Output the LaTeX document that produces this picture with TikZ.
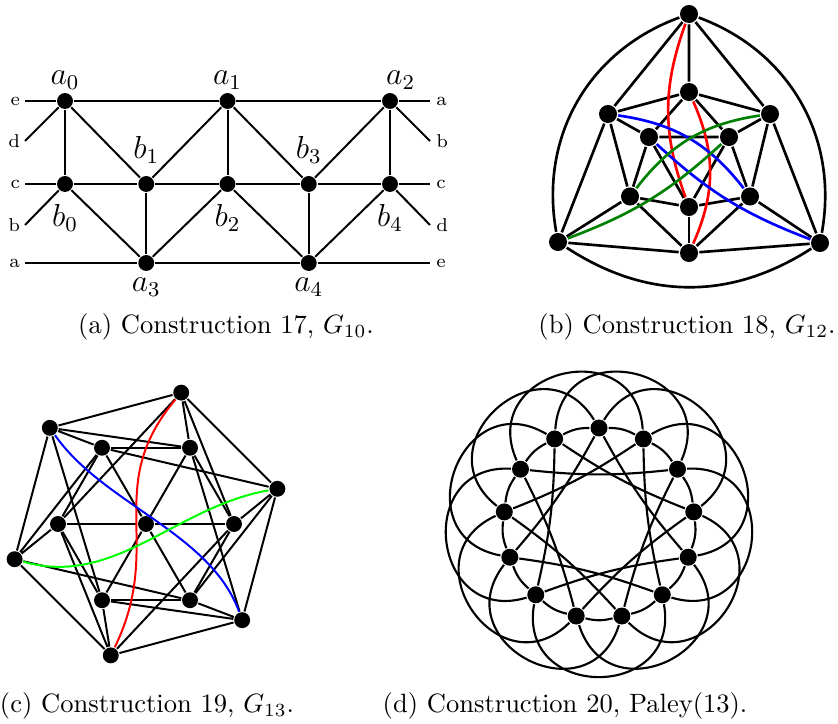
\documentclass[tikz,border=0pt]{standalone}
\usepackage{amsmath,amssymb}
\usepackage{xcolor}
\usepackage{tikz}
\usetikzlibrary{calc,positioning}
\definecolor{aristaroja}{RGB}{255,0,0}
\definecolor{aristaazul}{RGB}{0,0,255}
\definecolor{verdeosc}{RGB}{0,128,0}
\definecolor{verdeclaro}{RGB}{0,255,0}
\tikzset{
  vertice/.style={circle,fill=black,inner sep=0pt,minimum size=6pt},
  etiq/.style={inner sep=0pt,font=\large},
  letra/.style={inner sep=0pt,font=\scriptsize},
  pie/.style={inner sep=0pt,font=\normalsize}
}

\begin{document}
\begin{tikzpicture}[x=0.377pt, y=0.377pt, line width=0.75pt]
    \useasboundingbox (0,0) rectangle (838,723);
    % (a) Construction 17
    \node[vertice] (a0) at (65,622) {};
    \node[vertice] (a1) at (227.5,622) {};
    \node[vertice] (a2) at (390,622) {};
    \node[vertice] (b0) at (65,539) {};
    \node[vertice] (b1) at (146.25,539) {};
    \node[vertice] (b2) at (227.5,539) {};
    \node[vertice] (b3) at (308.75,539) {};
    \node[vertice] (b4) at (390,539) {};
    \node[vertice] (a3) at (146.25,460) {};
    \node[vertice] (a4) at (308.75,460) {};
    \coordinate (ie) at (25,622); \coordinate (id) at (25,582); \coordinate (ic) at (25,539);
    \coordinate (ib) at (25,498); \coordinate (ia) at (25,460);
    \coordinate (da) at (430,622); \coordinate (db) at (430,582); \coordinate (dc) at (430,539);
    \coordinate (dd) at (430,498); \coordinate (de) at (430,460);
    \draw (ie) -- (a0) -- (a1) -- (a2) -- (da);
    \draw (ic) -- (b0) -- (b1) -- (b2) -- (b3) -- (b4) -- (dc);
    \draw (ia) -- (a3) -- (a4) -- (de);
    \draw (a0) -- (b0) (a1) -- (b2) (a2) -- (b4) (b1) -- (a3) (b3) -- (a4);
    \draw (a0) -- (b1) -- (a1) -- (b3) -- (a2);
    \draw (b0) -- (a3) -- (b2) -- (a4) -- (b4);
    \draw (id) -- (a0) (ib) -- (b0) (db) -- (a2) (dd) -- (b4);
    \node[letra, left=1.5pt of ie] (le1) {e};
    \node[letra, left=1.5pt of id] (le2) {d};
    \node[letra, left=1.5pt of ic] (le3) {c};
    \node[letra, left=1.5pt of ib] (le4) {b};
    \node[letra, left=1.5pt of ia] (le5) {a};
    \node[letra, right=2pt of da] (ri1) {a};
    \node[letra, right=2pt of db] (ri2) {b};
    \node[letra, right=2pt of dc] (ri3) {c};
    \node[letra, right=2pt of dd] (ri4) {d};
    \node[letra, right=2pt of de] (ri5) {e};
    \node[etiq, above=0.5pt of a0] (la0) {$a_0$};
    \node[etiq, above=0.5pt of a1] (la1) {$a_1$};
    \node[etiq, above=0.5pt of a2, xshift=4pt] (la2) {$a_2$};
    \node[etiq, above=4pt of b1] (lb1) {$b_1$};
    \node[etiq, above=4pt of b3] (lb3) {$b_3$};
    \node[etiq, below=4pt of b0] (lb0) {$b_0$};
    \node[etiq, below=4pt of b2] (lb2) {$b_2$};
    \node[etiq, below=4pt of b4] (lb4) {$b_4$};
    \node[etiq, below=2pt of a3] (la3) {$a_3$};
    \node[etiq, below=2pt of a4] (la4) {$a_4$};
    \node[pie] (pa) at (226,396) {(a) Construction 17, $G_{10}$.};

    % (b) Construction 18
    \begin{scope}[line width=1pt, vertice/.append style={minimum size=6.8pt}]
    \node[vertice] (top) at (689,709) {};
    \node[vertice] (itop) at (689,631) {};
    \node[vertice] (left) at (608,609) {};
    \node[vertice] (right) at (770,609) {};
    \node[vertice] (ileft) at (649,586) {};
    \node[vertice] (iright) at (729,586) {};
    \node[vertice] (lleft) at (630,526.5) {};
    \node[vertice] (lright) at (750,526.5) {};
    \node[vertice] (ibot) at (689,516) {};
    \node[vertice] (bot) at (689,470) {};
    \node[vertice] (bleft) at (558,481) {};
    \node[vertice] (bright) at (820,480) {};
    \draw (top) to[bend right=40] (bleft);
    \draw (bleft) to[bend right=33] (bright);
    \draw (bright) to[bend right=40] (top);
    \draw (top) -- (left) (top) -- (right) (top) -- (itop);
    \draw (bleft) -- (left) (bleft) -- (lleft) (bleft) -- (bot);
    \draw (bright) -- (right) (bright) -- (lright) (bright) -- (bot);
    \draw (itop) -- (left) (itop) -- (right) (itop) -- (ileft) (itop) -- (iright);
    \draw (left) -- (ileft) (left) -- (lleft) (right) -- (iright) (right) -- (lright);
    \draw (ileft) -- (iright) (ileft) -- (lleft) (ileft) -- (ibot);
    \draw (iright) -- (lright) (iright) -- (ibot);
    \draw (lleft) -- (ibot) (lleft) -- (bot) (lright) -- (ibot) (lright) -- (bot);
    \draw (ibot) -- (bot);
    \draw[aristaroja] (top) to[bend right=20] (ibot);
    \draw[aristaroja] (itop) to[bend left=24] (bot);
    \draw[aristaazul] (left) to[bend left=22] (lright);
    \draw[aristaazul] (ileft) to[bend right=11] (bright);
    \draw[verdeosc] (right) to[bend right=22] (lleft);
    \draw[verdeosc] (iright) to[bend left=11] (bleft);
    \end{scope}
    \node[pie] (pb) at (687,396) {(b) Construction 18, $G_{12}$.};

    % (c) Construction 19
    \begin{scope}[shift={(146,199)}]
    \node[vertice] (z) at (0,0) {};
    \foreach \k in {0,...,5} {
        \node[vertice] (u\k) at (60*\k:88) {};
        \node[vertice] (w\k) at (15+60*\k:136) {};
    }
    \foreach \k in {0,...,5} {
        \pgfmathtruncatemacro\kn{mod(\k+1,6)}
        \pgfmathtruncatemacro\kp{mod(\k+5,6)}
        \pgfmathtruncatemacro\kd{mod(\k+2,6)}
        \draw (z) -- (u\k);
        \draw (u\k) -- (u\kn);
        \draw (w\k) -- (w\kn);
        \draw (w\k) -- (u\k) (w\k) -- (u\kp) (w\k) -- (u\kd);
    }
    \draw[aristaroja] (w1) to[out=230, in=64, looseness=1.15] (w4);
    \draw[aristaazul] (w2) to[out=-55, in=110, looseness=0.85] (w5);
    \draw[verdeclaro] (w3) to[out=-16, in=190, looseness=0.95] (w0);
    \end{scope}
    \node[pie] (pc) at (147,17) {(c) Construction 19, $G_{13}$.};

    % (d) Construction 20
    \begin{scope}[shift={(599,199.6)}, line width=0.8pt, vertice/.append style={minimum size=6.4pt}]
    \foreach \k in {0,...,12}
        \node[vertice] (p\k) at ({90-360/13*\k}:95.4) {};
    \foreach \k in {0,...,12} {
        \pgfmathtruncatemacro\ka{mod(\k+1,13)}
        \pgfmathtruncatemacro\kc{mod(\k+3,13)}
        \pgfmathtruncatemacro\kd{mod(\k+4,13)}
        \pgfmathsetmacro\sal{90-360/13*\k-31.54}
        \pgfmathsetmacro\ent{90-360/13*\k-51.54}
        \draw (p\k) to[bend left=14] (p\ka);
        \draw (p\k) to[bend right=6] (p\kd);
        \draw (p\k) to[out=\sal, in=\ent, looseness=1.95] (p\kc);
    }
    \end{scope}
    \node[pie] (pd) at (565,17) {(d) Construction 20, Paley(13).};
\end{tikzpicture}
\end{document}
